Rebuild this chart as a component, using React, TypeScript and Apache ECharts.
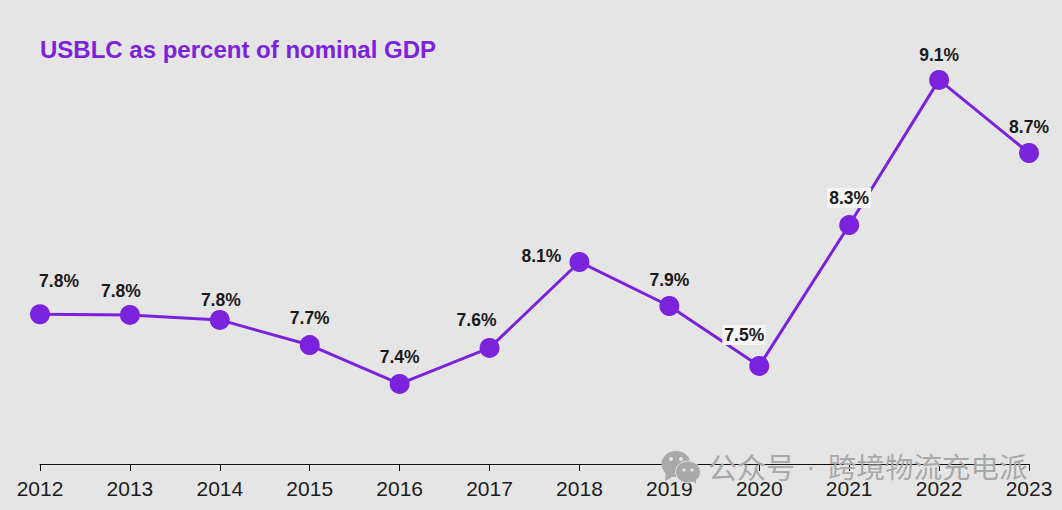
import React, { useEffect, useRef } from "react";
import * as echarts from "echarts";

const years = ["2012","2013","2014","2015","2016","2017","2018","2019","2020","2021","2022","2023"];
const values = [7.79,7.786,7.758,7.617,7.399,7.601,8.083,7.836,7.5,8.29,9.104,8.694];
const valueLabels = ["7.8%","7.8%","7.8%","7.7%","7.4%","7.6%","8.1%","7.9%","7.5%","8.3%","9.1%","8.7%"];
const labelOffsets = [[19,-33],[-9,-24],[1,-20],[0,-27],[0,-27],[-13,-28],[-38,-6],[0,-26],[-15,-31],[0,-27],[0,-25],[0,-26]];
const labelsWithBackground = ["2020","2021"];

const PURPLE = "#7a22dc";
const BG = "#e5e5e5";
const WM = "#a9a9a9";

export default function App() {
  const ref = useRef<HTMLDivElement>(null);
  useEffect(() => {
    document.body.style.margin = "0";
    const chart = echarts.init(ref.current!, undefined, { renderer: "svg" });
    chart.setOption({
      animation: false,
      backgroundColor: BG,
      textStyle: { fontFamily: "Liberation Sans" },
      title: {
        text: "USBLC as percent of nominal GDP",
        left: 40, top: 37, padding: 0,
        textStyle: { color: PURPLE, fontSize: 24, fontWeight: "bold", fontFamily: "Liberation Sans" },
      },
      grid: { left: 40, right: 33, top: 20, bottom: 46 },
      xAxis: {
        type: "category", data: years, boundaryGap: false,
        axisLine: { lineStyle: { color: "#111", width: 1 } },
        axisTick: { length: 7, lineStyle: { color: "#111", width: 1 }, alignWithLabel: true },
        axisLabel: { color: "#1c1c1c", fontSize: 21, margin: 14, interval: 0, hideOverlap: false, fontFamily: "Liberation Sans" },
      },
      yAxis: { type: "value", min: 6.95, max: 9.44, show: false, splitLine: { show: false } },
      series: [{
        type: "line",
        data: values.map((v, i) => {
          const bg = labelsWithBackground.includes(years[i]);
          return {
            value: v,
            label: {
              show: true,
              position: "inside",
              offset: labelOffsets[i],
              formatter: valueLabels[i],
              color: "#1a1a1a",
              fontSize: 17.5,
              fontWeight: "bold",
              fontFamily: "Liberation Sans",
              backgroundColor: bg ? "#f5f5f5" : "transparent",
              padding: bg ? [1, 2] : 0,
            },
          };
        }),
        symbol: "circle",
        symbolSize: 20,
        lineStyle: { color: PURPLE, width: 3 },
        itemStyle: { color: PURPLE },
      }],
      graphic: [
        { type: "ellipse", z: 50, shape: { cx: 676, cy: 464, rx: 14.5, ry: 13 }, style: { fill: WM } },
        { type: "polygon", z: 50, shape: { points: [[666, 471], [665, 481], [674, 476]] }, style: { fill: WM } },
        { type: "ellipse", z: 51, shape: { cx: 688, cy: 472, rx: 12.5, ry: 11 }, style: { fill: WM, stroke: BG, lineWidth: 1 } },
        { type: "polygon", z: 51, shape: { points: [[692, 480], [696, 484], [696, 476]] }, style: { fill: WM } },
        { type: "circle", z: 52, shape: { cx: 671, cy: 459, r: 2 }, style: { fill: BG } },
        { type: "circle", z: 52, shape: { cx: 681, cy: 459, r: 2 }, style: { fill: BG } },
        { type: "circle", z: 52, shape: { cx: 684, cy: 470, r: 1.6 }, style: { fill: BG } },
        { type: "circle", z: 52, shape: { cx: 692, cy: 470, r: 1.6 }, style: { fill: BG } },
        {
          type: "text", z: 50, left: 708, top: 451,
          style: { text: "公众号", fill: WM, font: '29px "Noto Sans CJK SC"' },
        },
        {
          type: "text", z: 50, left: 806, top: 451,
          style: { text: "·", fill: WM, font: '29px "Liberation Sans"' },
        },
        {
          type: "text", z: 50, left: 828, top: 451,
          style: { text: "跨境物流充电派", fill: WM, font: '28.5px "Noto Sans CJK SC"' },
        },
      ],
    });
    return () => chart.dispose();
  }, []);
  return <div ref={ref} style={{ width: 1062, height: 510 }} />;
}
